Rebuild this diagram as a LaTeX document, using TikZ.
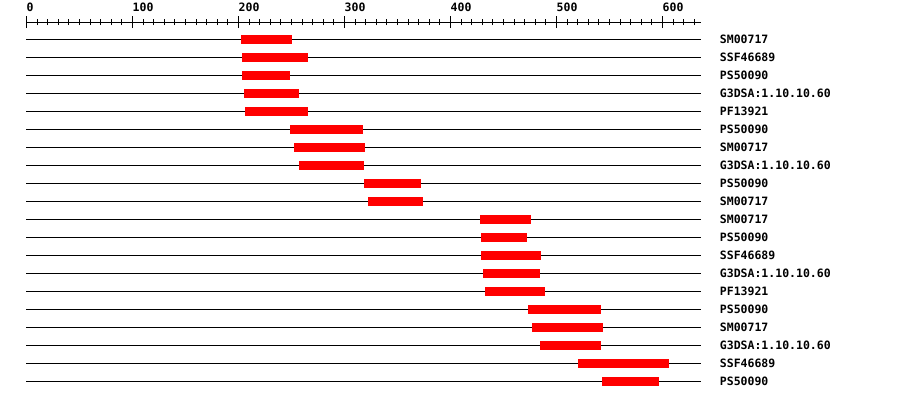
\documentclass[tikz,border=0pt]{standalone}
\usepackage{fontspec}
\setmonofont{DejaVu Sans Mono}

\begin{document}
\begin{tikzpicture}[x=1.06pt, y=-18pt,
    track/.style={line width=1pt},
    hit/.style={fill=red},
    dbname/.style={anchor=west, inner sep=0pt, font=\fontsize{11.5}{12}\ttfamily\bfseries},
    scalelbl/.style={anchor=base west, inner sep=0pt, font=\fontsize{11.5}{12}\ttfamily\bfseries}]
    \useasboundingbox (-26.5pt,21pt) rectangle (873.5pt,-379pt);

    % ruler
    \begin{scope}[yshift=-1pt]
        \draw[track] (0,0) -- (636,0);
        \foreach \t in {0,10,...,630}
            \draw[track] ([yshift=-3pt]\t,0) -- ([yshift=3pt]\t,0);
        \foreach \t in {0,100,...,600} {
            \draw[track] ([yshift=-6pt]\t,0) -- ([yshift=6pt]\t,0);
            \node[scalelbl] (tick\t) at ([yshift=10.3pt]\t,0) {\t};
        }
    \end{scope}

    % matches
    \foreach \s/\e/\name [count=\i] in {
        202/250/SM00717, 203/266/SSF46689, 203/249/PS50090, 205/257/G3DSA:1.10.10.60,
        206/266/PF13921, 249/317/PS50090, 252/319/SM00717, 257/318/G3DSA:1.10.10.60,
        318/372/PS50090, 322/374/SM00717, 428/476/SM00717, 429/472/PS50090,
        429/485/SSF46689, 431/484/G3DSA:1.10.10.60, 433/489/PF13921, 473/542/PS50090,
        477/544/SM00717, 484/542/G3DSA:1.10.10.60, 520/606/SSF46689, 543/597/PS50090} {
        \draw[track] (0,\i) -- (636,\i);
        \fill[hit] ([yshift=-4.5pt]\s,\i) rectangle ([yshift=4.5pt]\e,\i);
        \node[dbname] (db\i) at (654,\i) {\name};
    }
\end{tikzpicture}
\end{document}
